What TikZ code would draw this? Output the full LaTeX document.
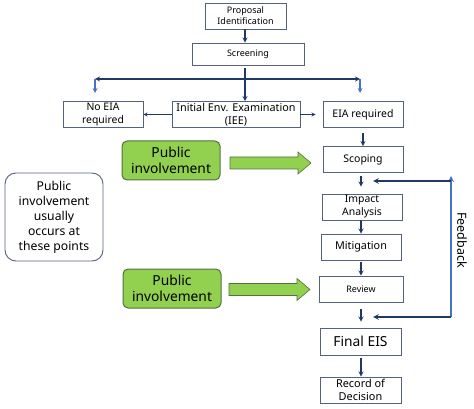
\documentclass[tikz,border=0pt]{standalone}
\usepackage{fontspec}
\setmainfont{Noto Sans}
\usetikzlibrary{shapes, arrows, positioning, calc}
\definecolor{boxline}{RGB}{85, 98, 127}
\definecolor{pubgreen}{RGB}{146, 208, 80}
\definecolor{publine}{RGB}{84, 112, 64}
\definecolor{navyline}{RGB}{31, 56, 100}
\definecolor{feedblue}{RGB}{68, 114, 196}

\begin{document}
\begin{tikzpicture}[x=1pt, y=-1pt, every node/.style={align=center, inner sep=1pt, text=black},
    stage/.style={rectangle, draw=boxline, line width=0.9pt, fill=white, minimum width=80pt, minimum height=26pt},
    pub/.style={rectangle, draw=publine, line width=1pt, rounded corners=5pt, fill=pubgreen, minimum width=98pt, minimum height=39pt, font=\fontsize{13.8}{16}\selectfont},
    bigarrow/.style={draw=publine, line width=0.6pt, fill=pubgreen},
    flow/.style={->, >=stealth, line width=1.2pt, navyline},
    blueflow/.style={->, >=stealth, line width=1.2pt, feedblue}]
    \useasboundingbox (0,0) rectangle (474,409);
    % main column
    \node (proposal) [stage, minimum width=81pt, font=\fontsize{9}{11}\selectfont] at (245.5,16) {Proposal\\Identification};
    \node (screen) [stage, minimum width=112pt, minimum height=22pt, font=\fontsize{9}{11}\selectfont] at (248,54) {Screening};
    \node (noeia) [stage, font=\fontsize{10.4}{13}\selectfont] at (103,114.5) {No EIA\\required};
    \node (iee) [stage, minimum width=128pt, font=\fontsize{10.8}{13}\selectfont] at (236,114.5) {Initial Env. Examination\\(IEE)};
    \node (eia) [stage, font=\fontsize{10.5}{13}\selectfont] at (363,114.5) {EIA required};
    \node (scoping) [stage, font=\fontsize{10.5}{13}\selectfont] at (363,159.5) {Scoping};
    \node (impact) [stage, font=\fontsize{10.4}{13}\selectfont] at (362,207) {Impact\\Analysis};
    \node (mitig) [stage, font=\fontsize{10.8}{13}\selectfont] at (361,247) {Mitigation};
    \node (review) [stage, minimum width=84pt, font=\fontsize{9}{11}\selectfont] at (361,289) {Review};
    \node (final) [stage, minimum width=81pt, minimum height=27pt, font=\fontsize{13.8}{16}\selectfont] at (360.5,341.5) {Final EIS};
    \node (record) [stage, minimum width=81pt, font=\fontsize{10.9}{13}\selectfont] at (360.5,390) {Record of\\Decision};
    % public involvement
    \node (pub1) [pub] at (171,160.5) {Public\\involvement};
    \node (pub2) [pub] at (172,288.5) {Public\\involvement};
    \node (note) [rectangle, draw=boxline, line width=0.9pt, rounded corners=11pt, minimum width=98pt, minimum height=88pt, font=\fontsize{12.2}{15}\selectfont] at (54,217) {Public\\involvement\\usually\\occurs at\\these points};
    % block arrows
    \coordinate (arr1) at (230,163);
    \coordinate (arr2) at (229,289.5);
    \draw[bigarrow] (arr1) ++(0,-6) -- ++(68,0) -- ++(0,-5) -- ++(13,11) -- ++(-13,11) -- ++(0,-5) -- ++(-68,0) -- cycle;
    \draw[bigarrow] (arr2) ++(0,-6) -- ++(68,0) -- ++(0,-5) -- ++(13,11) -- ++(-13,11) -- ++(0,-5) -- ++(-68,0) -- cycle;
    % split after screening
    \coordinate (split) at (245,79);
    \coordinate (splitL) at (95,79);
    \coordinate (splitR) at (360,79);
    \coordinate (downL) at (95,93);
    \coordinate (downR) at (360,93);
    \draw[flow, <->] (splitL) -- (splitR);
    \draw[blueflow] (splitL) -- (downL);
    \draw[blueflow] (splitR) -- (downR);
    \draw[flow] (proposal.south -| 245,0) -- (screen.north -| 245,0);
    \draw[flow] (split |- screen.south) ++(0,3) -- (split |- iee.north);
    \draw[flow, line width=0.8pt] (iee.west) -- (noeia.east);
    \draw[flow, line width=0.8pt, shorten >=7pt] (iee.east) -- (eia.west);
    \draw[flow, shorten <=5pt] (eia.south) -- (scoping.north);
    \draw[flow, shorten <=3pt, shorten >=7pt] (scoping.south -| 361,0) -- (impact.north -| 361,0);
    \draw[flow] (impact.south -| 361,0) -- (mitig.north -| 361,0);
    \draw[flow, shorten <=2pt] (mitig.south -| 361,0) -- (review.north -| 361,0);
    \draw[flow, shorten <=7pt, shorten >=6pt] (review.south -| 361,0) -- (final.north -| 361,0);
    \draw[flow, shorten <=3pt] (final.south -| 361,0) -- (record.north -| 361,0);
    % feedback loop
    \coordinate (fbtop) at (451,176);
    \coordinate (fbturn) at (451,181);
    \coordinate (fbbot) at (451,317);
    \coordinate (fbin1) at (373,181);
    \coordinate (fbin2) at (373,317);
    \draw[blueflow, line width=1.6pt] (fbbot) -- (fbtop);
    \draw[flow, line width=1.6pt] (fbturn) -- (fbin1);
    \draw[flow, line width=1.6pt] (fbbot) -- (fbin2);
    \node (feedback) [rotate=-90, font=\fontsize{12.5}{15}\selectfont] at (462,240) {Feedback};
\end{tikzpicture}
\end{document}
